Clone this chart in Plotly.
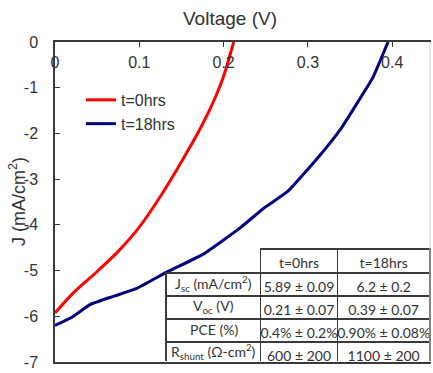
import plotly.graph_objects as go

# ---- data ----
v_t0 = [0, 0.02, 0.05, 0.075, 0.10, 0.125, 0.15, 0.175, 0.19, 0.20, 0.212]
j_t0 = [-5.93, -5.52, -5.02, -4.58, -4.05, -3.38, -2.62, -1.80, -1.22, -0.75, 0.0]

v_t18 = [0, 0.02, 0.042, 0.07, 0.097, 0.133, 0.176, 0.22, 0.248, 0.276, 0.311, 0.339, 0.359, 0.377, 0.395]
j_t18 = [-6.20, -6.02, -5.74, -5.56, -5.39, -5.03, -4.64, -4.06, -3.63, -3.27, -2.55, -1.90, -1.32, -0.78, 0.0]

x_ticks = [0, 0.1, 0.2, 0.3, 0.4]
x_ticktext = ["0", "0.1", "0.2", "0.3", "0.4"]
y_ticks = [0, -1, -2, -3, -4, -5, -6, -7]
y_ticktext = ["0", "-1", "-2", "-3", "-4", "-5", "-6", "-7"]

series_names = ["t=0hrs", "t=18hrs"]
series_colors = ["#FF0000", "#000080"]

table_header = ["", "t=0hrs", "t=18hrs"]
table_rows = [
    "J<sub>sc</sub> (mA/cm<sup>2</sup>)",
    "V<sub>oc</sub> (V)",
    "PCE (%)",
    "R<sub>shunt</sub> (\u03a9-cm<sup>2</sup>)",
]
table_t0 = ["5.89\u00a0\u00b1\u00a00.09", "0.21\u00a0\u00b1\u00a00.07", "0.4%\u00a0\u00b1\u00a00.2%", "600\u00a0\u00b1\u00a0200"]
table_t18 = ["6.2\u00a0\u00b1\u00a00.2", "0.39\u00a0\u00b1\u00a00.07", "0.90%\u00a0\u00b1\u00a00.08%", "1100\u00a0\u00b1\u00a0200"]

AX = "#3a3a3a"
FONT = "Liberation Sans, Arial, sans-serif"
TFONT = "Lato, sans-serif"

# layout geometry (pixels)
W, H = 433, 373
ML, MR, MT, MB = 55, 2, 42, 5
PW, PH = W - ML - MR, H - MT - MB
TAB_L, TAB_R, TAB_T = 166, 430, 253
HEAD_H, ROW_H = 24, 23
COLW = [95, 77, 93]

def px_x(x):
    return (x - ML) / PW

def px_y(y):
    return (H - MB - y) / PH

fig = go.Figure()
fig.add_trace(go.Scatter(x=v_t0, y=j_t0, mode="lines", name=series_names[0],
                         line=dict(color=series_colors[0], width=3, shape="spline", smoothing=0.6)))
fig.add_trace(go.Scatter(x=v_t18, y=j_t18, mode="lines", name=series_names[1],
                         line=dict(color=series_colors[1], width=3, shape="spline", smoothing=0.4)))

fig.add_trace(go.Table(
    domain=dict(x=[px_x(TAB_L), px_x(TAB_R)], y=[0.0, px_y(TAB_T)]),
    columnwidth=COLW,
    header=dict(values=table_header,
                fill=dict(color=["rgba(0,0,0,0)", "white", "white"]),
                line=dict(color=["rgba(0,0,0,0)", AX, AX], width=1.3),
                font=dict(family=TFONT, size=14, color="#333"),
                align="center", height=HEAD_H),
    cells=dict(values=[[""] * len(table_rows), table_t0, table_t18],
               fill=dict(color="white"),
               line=dict(color=AX, width=1.3),
               font=dict(family=TFONT, size=14, color="#333"),
               align="center", height=ROW_H),
))

annotations = [
    dict(text="Voltage (V)", xref="paper", yref="paper", x=px_x(230), y=px_y(18),
         xanchor="center", yanchor="middle", showarrow=False,
         font=dict(size=19, family=FONT, color="#333")),
    dict(text="J (mA/cm<sup>2</sup>)", xref="paper", yref="paper", x=px_x(17), y=px_y(205),
         xanchor="center", yanchor="middle", textangle=-90, showarrow=False,
         font=dict(size=18, family=FONT, color="#333")),
]
col1_cx = TAB_L + COLW[0] / 2
for i, lab in enumerate(table_rows):
    yc = TAB_T + HEAD_H + ROW_H * i + ROW_H / 2
    annotations.append(dict(text=lab, xref="paper", yref="paper", x=px_x(col1_cx), y=px_y(yc),
                            xanchor="center", yanchor="middle", showarrow=False,
                            font=dict(size=14, family=TFONT, color="#333")))

fig.update_layout(
    width=W, height=H,
    margin=dict(l=ML, r=MR, t=MT, b=MB),
    paper_bgcolor="white", plot_bgcolor="white",
    font=dict(family=FONT, color="#333"),
    showlegend=True,
    legend=dict(x=0.069, y=0.872, xanchor="left", yanchor="top",
                bgcolor="rgba(0,0,0,0)", font=dict(size=16, family=FONT, color="#333")),
    xaxis=dict(range=[0, 0.446], side="top", tickvals=x_ticks, ticktext=x_ticktext,
               ticks="inside", ticklen=5, tickcolor=AX, ticklabelposition="inside",
               ticklabeloverflow="allow", ticklabelstandoff=10,
               showline=True, linecolor=AX, linewidth=1.5, mirror=True,
               showgrid=False, zeroline=False, tickfont=dict(size=16, color="#333")),
    yaxis=dict(range=[-7, 0], tickvals=y_ticks, ticktext=y_ticktext,
               ticks="inside", ticklen=5, tickcolor=AX, ticklabelstandoff=12,
               ticklabeloverflow="allow",
               showline=True, linecolor=AX, linewidth=1.5,
               showgrid=False, zeroline=False, tickfont=dict(size=16, color="#333")),
    annotations=annotations,
    shapes=[dict(type="line", xref="paper", yref="paper", x0=px_x(430), x1=px_x(430), y0=0, y1=1,
                 line=dict(color="#cccccc", width=1))],
)

fig.write_html("out.html", config={"displayModeBar": False},
               post_script="document.body.style.margin='0';")
